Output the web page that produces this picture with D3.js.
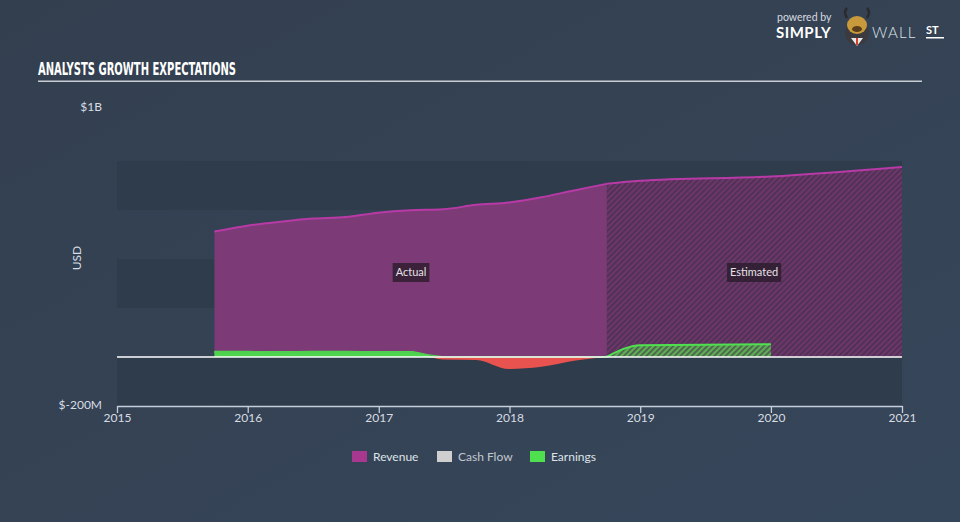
<!DOCTYPE html>
<html><head><meta charset="utf-8">
<script src="https://cdn.jsdelivr.net/npm/d3@7"></script>
<style>
html,body{margin:0;padding:0;background:#344152;}
svg{display:block;}
</style></head>
<body>
<svg id="c" width="960" height="522"></svg>
<script>
// ---- data (USD millions) ----
const actualDates = ["2015-09-30","2015-12-31","2016-03-31","2016-06-30","2016-09-30","2016-12-31","2017-03-31","2017-06-30","2017-09-30","2017-12-31","2018-03-31","2018-06-30","2018-09-30"];
const revenueActual = [512,536,552,565,571,589,599,603,621,631,652,680,707];
const earningsActual = [21,21,20,21,21,20,20,-10,-12,-49,-40,-15,1];
const estDates = ["2018-09-30","2019-01-01","2020-01-01","2021-01-01"];
const revenueEst = [707,719,737,776];
const earningsEstDates = ["2018-09-30","2019-01-01","2020-01-01"];
const earningsEst = [1,48,52];
const xTicks = ["2015","2016","2017","2018","2019","2020","2021"];
const yBands = [[600,800],[200,400],[-200,0]];
const legendItems = [["Revenue","#a8388f"],["Cash Flow","#cfcfcf"],["Earnings","#4fe04f"]];

const svg = d3.select("#c");
const W=960,H=522;
const parse = d3.timeParse("%Y-%m-%d");

// background gradient
const defs = svg.append("defs");
const bg = defs.append("linearGradient").attr("id","bg").attr("x1","0").attr("y1","0").attr("x2","1").attr("y2","1");
bg.append("stop").attr("offset","0").attr("stop-color","#333f4f");
bg.append("stop").attr("offset","1").attr("stop-color","#36465a");
svg.append("rect").attr("width",W).attr("height",H).attr("fill","url(#bg)");

const pat = defs.append("pattern").attr("id","hatch").attr("patternUnits","userSpaceOnUse")
  .attr("width",4).attr("height",4).attr("patternTransform","rotate(45)");
pat.append("rect").attr("width",4).attr("height",4).attr("fill","#6c3669");
pat.append("rect").attr("width",1.4).attr("height",4).attr("fill","#46304f");
const patG = defs.append("pattern").attr("id","hatchG").attr("patternUnits","userSpaceOnUse")
  .attr("width",4).attr("height",4).attr("patternTransform","rotate(45)");
patG.append("rect").attr("width",4).attr("height",4).attr("fill","#5fae55");
patG.append("rect").attr("width",1.6).attr("height",4).attr("fill","#4a5a4c");

const x = d3.scaleTime().domain([parse("2015-01-01"),parse("2021-01-01")]).range([117,902]);
const y = d3.scaleLinear().domain([-200,1000]).range([406,112]);

// bands
svg.append("g").selectAll("rect").data(yBands).join("rect")
  .attr("x",117).attr("width",902-117)
  .attr("y",d=>y(d[1])).attr("height",d=>y(d[0])-y(d[1]))
  .attr("fill","#2f3c4c");

const curve = d3.curveMonotoneX;
const ra = actualDates.map((d,i)=>({d:parse(d),v:revenueActual[i]}));
const re = estDates.map((d,i)=>({d:parse(d),v:revenueEst[i]}));
const ea = actualDates.map((d,i)=>({d:parse(d),v:earningsActual[i]}));
const ee = earningsEstDates.map((d,i)=>({d:parse(d),v:earningsEst[i]}));

const area = d3.area().x(d=>x(d.d)).y0(y(0)).y1(d=>y(d.v)).curve(curve);
const line = d3.line().x(d=>x(d.d)).y(d=>y(d.v)).curve(curve);

// revenue
svg.append("path").datum(ra).attr("d",area).attr("fill","#7c3a76");
svg.append("path").datum(re).attr("d",area).attr("fill","url(#hatch)");
svg.append("path").datum(ra).attr("d",line).attr("fill","none").attr("stroke","#b83aa6").attr("stroke-width",2);
svg.append("path").datum(re).attr("d",line).attr("fill","none").attr("stroke","#b83aa6").attr("stroke-width",2);

// earnings: positive green, negative red
const cpPos = defs.append("clipPath").attr("id","pos");
cpPos.append("rect").attr("x",0).attr("y",0).attr("width",W).attr("height",y(0)+0.5);
const cpNeg = defs.append("clipPath").attr("id","neg");
cpNeg.append("rect").attr("x",0).attr("y",y(0)).attr("width",W).attr("height",H);

const eArea = d3.area().x(d=>x(d.d)).y0(y(0)).y1(d=>y(d.v)).curve(curve);
svg.append("path").datum(ea).attr("d",eArea).attr("fill","#4fd44f").attr("clip-path","url(#pos)");
svg.append("path").datum(ea).attr("d",eArea).attr("fill","#e8534f").attr("clip-path","url(#neg)");
const eaPos = ea.map(p=>({d:p.d,v:Math.max(p.v,0.6)}));
svg.append("path").datum(ea).attr("d",line).attr("fill","none").attr("stroke","#4fe04f").attr("stroke-width",2).attr("clip-path","url(#pos)");
svg.append("path").datum(eaPos).attr("d",d3.line().x(d=>x(d.d)).y(d=>y(d.v))).attr("fill","none").attr("stroke","#4fc84f").attr("stroke-width",1.2);
svg.append("path").datum(ee).attr("d",eArea).attr("fill","url(#hatchG)");
svg.append("path").datum(ee).attr("d",line).attr("fill","none").attr("stroke","#4fe04f").attr("stroke-width",2);

// zero line
svg.append("line").attr("x1",117).attr("x2",902).attr("y1",y(0)).attr("y2",y(0)).attr("stroke","#ffffff").attr("stroke-width",1.3);

// labels Actual / Estimated
function tag(cx,cy,t){
  const g=svg.append("g");
  const tx=g.append("text").attr("x",cx).attr("y",cy+4).attr("text-anchor","middle")
    .attr("font-family","Lato, 'Open Sans', sans-serif").attr("font-size",11).attr("fill","#e6e1e6").text(t);
  const bb=tx.node().getBBox();
  g.insert("rect","text").attr("x",bb.x-3).attr("y",cy-9).attr("width",bb.width+6).attr("height",19).attr("fill","#2a1d2c").attr("opacity",0.8);
}
tag(x(parse("2017-04-01")),272,"Actual");
tag(x(parse("2019-11-15")),272,"Estimated");

// x axis
const xa = svg.append("g").attr("transform","translate(0,406)")
  .call(d3.axisBottom(x).tickValues(xTicks.map(t=>parse(t+"-01-01"))).tickFormat(d3.timeFormat("%Y")).tickSize(7).tickSizeOuter(0));
xa.select(".domain").attr("stroke","#c5ced9").attr("stroke-width",1.3);
xa.selectAll(".tick line").attr("stroke","#c5ced9").attr("stroke-width",1.3);
xa.selectAll("text").attr("fill","#d8dde3").attr("font-size",12).attr("font-family","Lato, 'Open Sans', sans-serif").attr("dy","0.9em").attr("y",5);

// y labels
const yLab = [[1000,"$1B"],[-200,"$-200M"]];
svg.append("g").selectAll("text").data(yLab).join("text")
  .attr("x",102).attr("y",d=>y(d[0])).attr("dy",d=>d[0]===1000?"-1":"3")
  .attr("text-anchor","end").attr("fill","#d8dde3").attr("font-size",12)
  .attr("font-family","Lato, 'Open Sans', sans-serif").text(d=>d[1]);
svg.append("text").attr("transform","translate(81,258) rotate(-90)").attr("text-anchor","middle")
  .attr("fill","#d8dde3").attr("font-size",12).attr("font-family","Lato, 'Open Sans', sans-serif").text("USD");

// title
svg.append("text").attr("x",38).attr("y",75).attr("fill","#ffffff").attr("font-size",17)
  .attr("font-weight","bold").attr("font-family","'DejaVu Sans Condensed','Liberation Sans Narrow',sans-serif")
  .attr("textLength",198).attr("lengthAdjust","spacingAndGlyphs").text("ANALYSTS GROWTH EXPECTATIONS");
svg.append("rect").attr("x",38).attr("y",80.5).attr("width",884).attr("height",1.5).attr("fill","#c9ced4");

// legend
const lg = svg.append("g");
const lx=[352,437,530];
legendItems.forEach((it,i)=>{
  lg.append("rect").attr("x",lx[i]).attr("y",451).attr("width",15).attr("height",11).attr("fill",it[1]);
  lg.append("text").attr("x",lx[i]+21).attr("y",461).attr("fill",i===1?"#c3c8ce":"#dfe3e8").attr("font-size",12)
    .attr("font-family","Lato, 'Open Sans', sans-serif").text(it[0]);
});

// logo
const lgo = svg.append("g");
lgo.append("text").attr("x",777).attr("y",21).attr("fill","#d7dbe0").attr("font-size",10.5).attr("font-family","Lato, sans-serif").text("powered by");
lgo.append("text").attr("x",776).attr("y",38).attr("fill","#ffffff").attr("font-size",15).attr("font-weight","bold").attr("font-family","Lato, sans-serif").attr("letter-spacing",0.5).text("SIMPLY");
lgo.append("circle").attr("cx",857).attr("cy",33).attr("r",12).attr("fill","#3b3b3f");
lgo.append("path").attr("d","M851,38 L857,46 L863,38 Z").attr("fill","#e8e8e8");
lgo.append("path").attr("d","M856,38 L858,38 L858,45 L856,45 Z").attr("fill","#d0402a");
lgo.append("ellipse").attr("cx",857).attr("cy",25).attr("rx",10).attr("ry",9).attr("fill","#c89a3c");
lgo.append("ellipse").attr("cx",857).attr("cy",29).attr("rx",5).attr("ry",3).attr("fill","#5a3d1a");
lgo.append("path").attr("d","M847,18 Q843,12 847,8 M867,18 Q871,12 867,8").attr("stroke","#2b2b2b").attr("stroke-width",2.5).attr("fill","none");
lgo.append("text").attr("x",872).attr("y",38).attr("fill","#dfe3e8").attr("font-size",15).attr("font-family","Lato, sans-serif").attr("font-weight","300").attr("letter-spacing",1.2).text("WALL");
lgo.append("text").attr("x",926).attr("y",34).attr("fill","#ffffff").attr("font-size",11).attr("font-weight","bold").attr("font-family","Lato, sans-serif").text("ST");
lgo.append("rect").attr("x",926).attr("y",37).attr("width",18).attr("height",1.5).attr("fill","#ffffff");
</script>
</body></html>
